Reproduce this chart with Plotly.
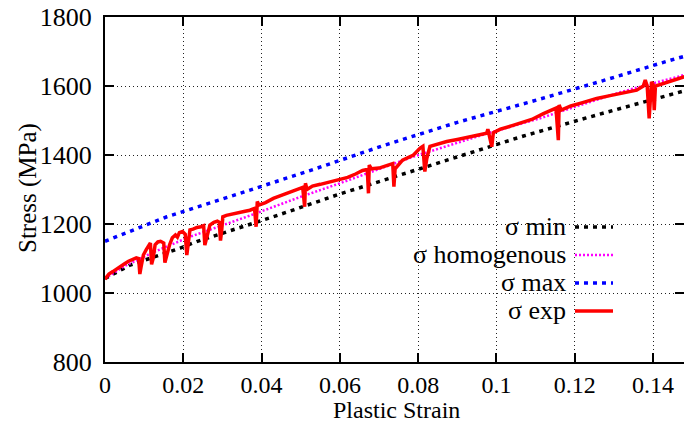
import plotly.graph_objects as go

# ---- data ----
x_min = [0.0, 0.0064, 0.014, 0.0192, 0.0234, 0.0362, 0.043, 0.06, 0.0711, 0.0898, 0.1069, 0.1256, 0.146, 0.148]
y_min = [1042, 1081, 1110, 1130, 1149, 1195, 1221, 1287, 1327, 1393, 1455, 1516, 1580, 1586]

x_hom = [0.0, 0.005, 0.0123, 0.0217, 0.0362, 0.0498, 0.06, 0.0787, 0.0975, 0.111, 0.118, 0.1316, 0.148]
y_hom = [1042, 1078, 1118, 1163, 1221, 1278, 1318, 1395, 1462, 1506, 1532, 1582, 1632]

x_max = [0.0, 0.0158, 0.0345, 0.0532, 0.071, 0.0898, 0.1077, 0.1256, 0.146, 0.148]
y_max = [1150, 1221, 1289, 1358, 1427, 1494, 1551, 1610, 1680, 1686]

x_exp = [0.0, 0.001, 0.002, 0.003, 0.004, 0.005, 0.006, 0.007, 0.008, 0.0086, 0.0089, 0.0092,
         0.0098, 0.0105, 0.0112, 0.0116, 0.0119, 0.0123, 0.0128, 0.0135, 0.0142, 0.015, 0.0153,
         0.0158, 0.0165, 0.0172, 0.018, 0.0185, 0.019, 0.0198, 0.0205, 0.0209, 0.0213, 0.0217,
         0.0225, 0.0235, 0.0245, 0.0252, 0.0255, 0.026, 0.0268, 0.0278, 0.0287, 0.0292, 0.0295,
         0.0298, 0.0301, 0.031, 0.0325, 0.034, 0.0355, 0.037, 0.0382, 0.0386, 0.0389, 0.0393,
         0.041, 0.043, 0.045, 0.047, 0.049, 0.0505, 0.051, 0.0512, 0.0516, 0.053, 0.055, 0.0575,
         0.06, 0.062, 0.064, 0.0658, 0.067, 0.0673, 0.0675, 0.068, 0.07, 0.0718, 0.0735, 0.0738,
         0.0741, 0.076, 0.0788, 0.0805, 0.0812, 0.0817, 0.0822, 0.083, 0.085, 0.0873, 0.09, 0.093,
         0.096, 0.0975, 0.0978, 0.0988, 0.0992, 0.101, 0.104, 0.107, 0.109, 0.112, 0.114, 0.1152,
         0.1158, 0.116, 0.1165, 0.119, 0.122, 0.1256, 0.129, 0.132, 0.1358, 0.1375, 0.138, 0.1385,
         0.139, 0.1393, 0.1396, 0.14, 0.1403, 0.1406, 0.142, 0.1445, 0.1465, 0.148]
y_exp = [1040, 1055, 1062, 1070, 1080, 1085, 1092, 1098, 1102, 1100, 1055, 1075,
         1110, 1125, 1140, 1145, 1083, 1100, 1140, 1148, 1150, 1145, 1088,
         1110, 1140, 1160, 1168, 1162, 1175, 1178, 1170, 1110, 1150, 1183,
         1185, 1190, 1192, 1195, 1139, 1160, 1197, 1205, 1208, 1205, 1152,
         1180, 1221, 1225, 1228, 1233, 1236, 1240, 1245, 1192, 1265, 1255,
         1262, 1274, 1282, 1290, 1300, 1306, 1250, 1318, 1300, 1310, 1315, 1322,
         1327, 1335, 1345, 1355, 1358, 1289, 1371, 1360, 1362, 1370, 1375, 1308,
         1360, 1385, 1400, 1420, 1425, 1352, 1390, 1425, 1432, 1439, 1445, 1452,
         1460, 1463, 1475, 1424, 1465, 1475, 1485, 1495, 1503, 1520, 1530, 1536,
         1443, 1545, 1530, 1542, 1552, 1564, 1572, 1578, 1588, 1600, 1617, 1600,
         1506, 1560, 1612, 1605, 1530, 1600, 1605, 1612, 1620, 1627]

legend_labels = ["σ min", "σ homogenous", "σ max", "σ exp"]
x_ticks = [0, 0.02, 0.04, 0.06, 0.08, 0.1, 0.12, 0.14]
x_tick_text = ["0", "0.02", "0.04", "0.06", "0.08", "0.1", "0.12", "0.14"]
y_ticks = [800, 1000, 1200, 1400, 1600, 1800]
x_title = "Plastic Strain"
y_title = "Stress (MPa)"

FONT = "Liberation Serif"
styles = [
    dict(color="black", width=3.5, dash="4px,5px"),
    dict(color="#ff00ff", width=2.5, dash="2px,2px"),
    dict(color="#0000ff", width=3.5, dash="4px,5px"),
    dict(color="#ff0000", width=3.5, dash="solid"),
]
series = [(x_min, y_min), (x_hom, y_hom), (x_max, y_max), (x_exp, y_exp)]

fig = go.Figure()
for (xs, ys), st, name in zip(series, styles, legend_labels):
    fig.add_trace(go.Scatter(x=xs, y=ys, mode="lines", line=st, name=name, showlegend=False))

W, H = 684, 423
ml, mr, mt, mb = 105, 0, 17, 61
pw, ph = W - ml - mr, H - mt - mb

def px2paper_x(p):
    return (p - ml) / pw

def px2paper_y(p):
    return 1 - (p - mt) / ph

# opaque key box (between grid and traces)
fig.add_shape(type="rect", xref="paper", yref="paper",
              x0=px2paper_x(438), x1=px2paper_x(617), y0=px2paper_y(332), y1=px2paper_y(211),
              fillcolor="white", line=dict(width=0), layer="between")

rows = [226, 254, 282, 310]
for lab, st, ry in zip(legend_labels, styles, rows):
    fig.add_annotation(xref="paper", yref="paper", x=px2paper_x(568), y=px2paper_y(ry),
                       text=lab, showarrow=False, xanchor="right", yanchor="middle",
                       font=dict(family=FONT, size=26, color="black"))
    fig.add_shape(type="line", xref="paper", yref="paper",
                  x0=px2paper_x(575), x1=px2paper_x(613), y0=px2paper_y(ry + 1), y1=px2paper_y(ry + 1),
                  line=st, layer="above")

# axis titles
fig.add_annotation(xref="paper", yref="paper", x=px2paper_x(396), y=px2paper_y(410),
                   text=x_title, showarrow=False, xanchor="center", yanchor="middle",
                   font=dict(family=FONT, size=24, color="black"))
fig.add_annotation(xref="paper", yref="paper", x=px2paper_x(28), y=px2paper_y(188),
                   text=y_title, showarrow=False, xanchor="center", yanchor="middle", textangle=-90,
                   font=dict(family=FONT, size=25, color="black"))

axis_common = dict(
    showline=True, linecolor="black", linewidth=2, mirror="ticks",
    ticks="inside", ticklen=9, tickwidth=2, tickcolor="black",
    showgrid=True, gridcolor="#222222", gridwidth=1, griddash="1px,3px",
    zeroline=False, automargin=False,
)

fig.update_xaxes(range=[0, 0.1479], tickvals=x_ticks, ticktext=x_tick_text,
                 ticklabelstandoff=0, tickfont=dict(family=FONT, size=24, color="black"), **axis_common)
fig.update_yaxes(range=[800, 1800], tickvals=y_ticks,
                 ticklabelstandoff=6, tickfont=dict(family=FONT, size=26, color="black"), **axis_common)

fig.update_layout(width=W, height=H, margin=dict(l=ml, r=mr, t=mt, b=mb),
                  plot_bgcolor="white", paper_bgcolor="white", showlegend=False,
                  font=dict(family=FONT, size=24, color="black"))

fig.write_html("out.html", config={"displayModeBar": False, "staticPlot": True},
               post_script="document.body.style.margin='0';document.body.style.overflow='hidden';")
